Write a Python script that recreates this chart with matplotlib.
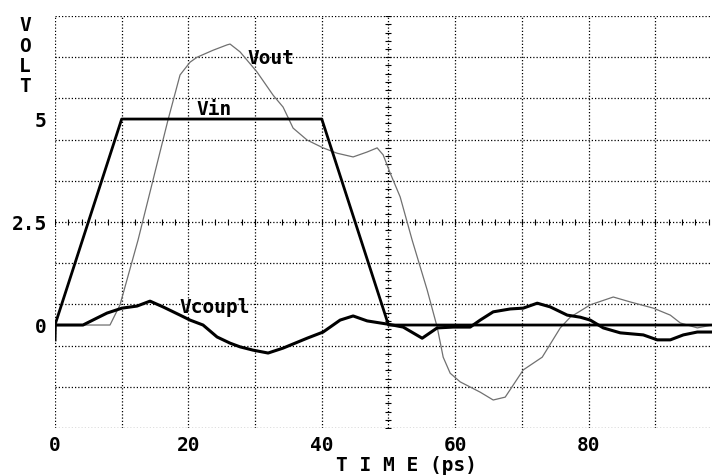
import numpy as np
import matplotlib.pyplot as plt

# Time axis in ps, voltages in V
vin_t = [0, 10, 40, 50, 98.5]
vin_v = [0, 5, 5, 0, 0]

vout_t = [0, 8.25, 9.75, 12.45, 14.7, 16.95, 18.75, 20.25, 21.3, 23.7, 25.8, 26.25,
          27.75, 30.3, 32.7, 34.2, 35.7, 37.8, 40.2, 42.3, 44.7, 46.8, 48.3, 49.2,
          50.25, 51.75, 53.55, 55.8, 57.3, 58.2, 59.25, 60.75, 63.75, 65.7, 67.5,
          70.2, 73.05, 75.75, 77.25, 80.25, 83.7, 86.25, 89.7, 92.25, 93.75, 96.3, 98.5]
vout_v = [0, 0, 0.49, 2.06, 3.52, 4.98, 6.07, 6.38, 6.50, 6.67, 6.80, 6.82,
          6.63, 6.14, 5.58, 5.29, 4.78, 4.49, 4.30, 4.17, 4.08, 4.20, 4.30, 4.13,
          3.69, 3.11, 2.06, 0.85, -0.05, -0.78, -1.17, -1.38, -1.63, -1.82, -1.75,
          -1.09, -0.78, -0.07, 0.19, 0.49, 0.68, 0.56, 0.41, 0.24, 0.05, -0.07, 0]

vc_t = [0, 0.05, 4.2, 6.3, 7.8, 10.05, 12.3, 14.25, 16.2, 18.75, 20.25, 22.2, 24.3,
        26.25, 27.75, 29.7, 31.95, 34.2, 37.8, 40.2, 42.75, 44.7, 46.8, 48.75, 49.95,
        52.2, 55.05, 57.3, 59.7, 62.25, 63.75, 65.7, 68.25, 70.2, 72.3, 74.25, 76.8,
        78.75, 80.25, 82.2, 84.75, 88.2, 90.3, 92.25, 94.2, 96.3, 98.5]
vc_v = [-0.36, 0, 0, 0.17, 0.29, 0.41, 0.46, 0.58, 0.44, 0.24, 0.12, 0, -0.29,
        -0.44, -0.53, -0.61, -0.68, -0.56, -0.32, -0.17, 0.12, 0.22, 0.10, 0.05, 0.02,
        -0.05, -0.32, -0.07, -0.05, -0.05, 0.12, 0.32, 0.39, 0.41, 0.53, 0.44, 0.24,
        0.19, 0.12, -0.07, -0.19, -0.24, -0.36, -0.36, -0.24, -0.17, -0.17]

xticks = [0, 20, 40, 60, 80]
yticks = [0, 2.5, 5]
ytick_labels = ['0', '2.5', '5']

font = dict(family='DejaVu Sans Mono', weight='bold')

fig = plt.figure(figsize=(7.12, 4.76), dpi=100)
ax = fig.add_axes([0.0772, 0.1008, 0.9228, 0.8655])
ax.set_xlim(0, 98.5)
ax.set_ylim(-2.5, 7.5)

# dotted grid, frame drawn as grid lines
for x in np.arange(0, 100, 10):
    ax.axvline(x, color='black', lw=0.9, ls=(0, (1, 1.6)), zorder=1)
for y in np.arange(-2.5, 7.6, 1):
    ax.axhline(y, color='black', lw=0.9, ls=(0, (1, 1.6)), zorder=1)

# small tick marks on the centre cross
ax.plot(np.arange(0, 100, 2), np.full(50, 2.5), ls='none', marker='|',
        ms=4, mew=0.8, color='black', zorder=1)
ax.plot(np.full(51, 50), np.arange(-2.5, 7.6, 0.2), ls='none', marker='_',
        ms=4, mew=0.8, color='black', zorder=1)

ax.plot(vout_t, vout_v, color='#707070', lw=0.9, zorder=2)
ax.plot(vin_t, vin_v, color='black', lw=2.0, zorder=3)
ax.plot(vc_t, vc_v, color='black', lw=2.2, zorder=3)

ax.text(28.8, 6.48, 'Vout', fontsize=14, va='center', ha='left', **font)
ax.text(21.2, 5.23, 'Vin', fontsize=14, va='center', ha='left', **font)
ax.text(18.7, 0.42, 'Vcoupl', fontsize=14, va='center', ha='left', **font)

for s in ax.spines.values():
    s.set_visible(False)
ax.tick_params(length=0)
ax.set_xticks(xticks)
ax.set_xticklabels([str(v) for v in xticks], fontsize=14, **font)
ax.set_yticks(yticks)
ax.set_yticklabels(ytick_labels, fontsize=14, **font)
ax.tick_params(axis='x', pad=6)
ax.tick_params(axis='y', pad=6)

fig.text(406 / 712, 1 - 475 / 476, 'T I M E (ps)', fontsize=14, ha='center',
         va='bottom', **font)
fig.text(25 / 712, 1 - 16 / 476, 'V\nO\nL\nT', fontsize=14, ha='center',
         va='top', linespacing=1.1, **font)

fig.savefig('out.png', dpi=100)
